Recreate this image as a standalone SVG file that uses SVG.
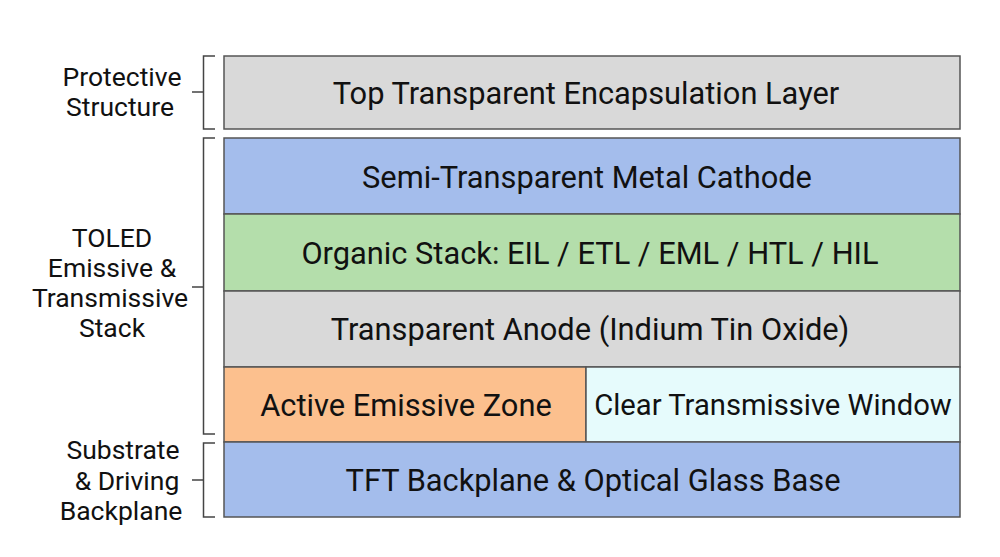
<svg xmlns="http://www.w3.org/2000/svg" width="1000" height="557" viewBox="0 0 1000 557">
<style>
.box{stroke:#555;stroke-width:1.5}
.t{font-family:Roboto,"Liberation Sans",sans-serif;font-size:30.8px;fill:#111;text-anchor:middle;dominant-baseline:central}
.l{font-family:Roboto,"Liberation Sans",sans-serif;font-size:26.5px;fill:#111;text-anchor:middle;dominant-baseline:central}
.br{fill:none;stroke:#444;stroke-width:1.5}
</style>
<rect width="1000" height="557" fill="#fff"/>
<g id="encap"><rect class="box" x="224" y="56" width="736" height="73" fill="#d9d9d9"/><text class="t" x="586" y="93">Top Transparent Encapsulation Layer</text></g>
<g id="cathode"><rect class="box" x="224" y="138" width="736" height="76" fill="#a4bdec"/><text class="t" x="587" y="177">Semi-Transparent Metal Cathode</text></g>
<g id="organic"><rect class="box" x="224" y="214" width="736" height="77" fill="#b4deab"/><text class="t" x="590" y="253">Organic Stack: EIL / ETL / EML / HTL / HIL</text></g>
<g id="anode"><rect class="box" x="224" y="291" width="736" height="76" fill="#d9d9d9"/><text class="t" x="590" y="329">Transparent Anode (Indium Tin Oxide)</text></g>
<g id="active"><rect class="box" x="224" y="367" width="362" height="75" fill="#fcc08e"/><text class="t" x="406" y="405">Active Emissive Zone</text></g>
<g id="window"><rect class="box" x="586" y="367" width="374" height="75" fill="#e6fbfc"/><text class="t" x="773" y="405" style="font-size:29.2px">Clear Transmissive Window</text></g>
<g id="tft"><rect class="box" x="224" y="442" width="736" height="75" fill="#a4bdec"/><text class="t" x="593" y="480">TFT Backplane &amp; Optical Glass Base</text></g>
<g id="connectors">
<path class="br" d="M215 56H203.5V129H215M203.5 92H192"/>
<path class="br" d="M215 138H203.5V434H215M203.5 287H192"/>
<path class="br" d="M215 443H203.5V517H215M203.5 480H192"/>
</g>
<g id="lbl-protective"><text class="l" x="122" y="76">Protective</text><text class="l" x="120" y="106">Structure</text></g>
<g id="lbl-toled"><text class="l" x="112" y="237">TOLED</text><text class="l" x="112" y="267">Emissive &amp;</text><text class="l" x="110" y="297">Transmissive</text><text class="l" x="112" y="327">Stack</text></g>
<g id="lbl-substrate"><text class="l" x="123" y="449">Substrate</text><text class="l" x="127" y="480">&amp; Driving</text><text class="l" x="121" y="510">Backplane</text></g>
</svg>
